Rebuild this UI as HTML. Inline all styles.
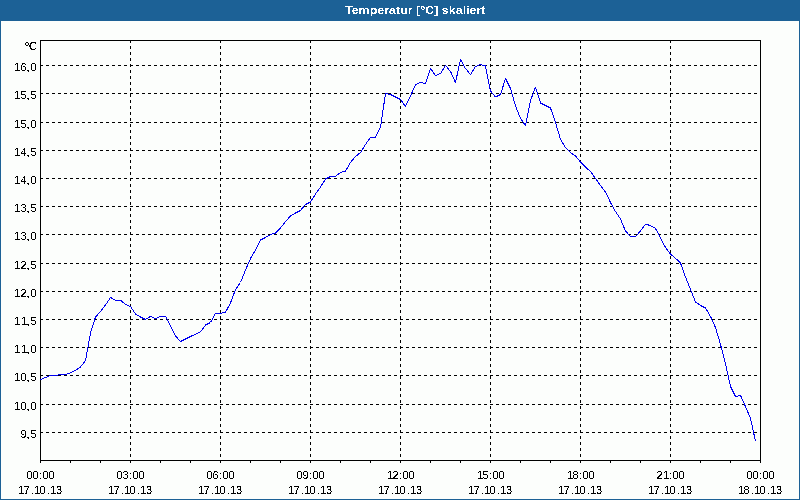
<!DOCTYPE html>
<html><head><meta charset="utf-8"><title>Temperatur [°C] skaliert</title>
<style>
html,body{margin:0;padding:0;background:#fcfefc;overflow:hidden}
#w{position:relative;width:800px;height:500px;background:#fcfefc;font-family:"Liberation Sans",sans-serif;overflow:hidden}
#t{position:absolute;left:0;top:0;width:800px;height:20px;background:#1c6196;color:#fff;font-weight:bold;font-size:11px;line-height:20px;text-align:center}
.b{position:absolute;background:#1c6196}
svg{position:absolute;left:0;top:0}
text{font-family:"Liberation Sans",sans-serif;font-size:11px;fill:#000}
</style></head><body>
<div id="w">
<div id="t"></div>
<div class="b" style="left:0;top:20px;width:800px;height:1px"></div>
<div class="b" style="left:0;top:20px;width:1px;height:480px"></div>
<div class="b" style="left:799px;top:20px;width:1px;height:480px"></div>
<div class="b" style="left:0;top:499px;width:800px;height:1px"></div>
<svg width="800" height="500" viewBox="0 0 800 500">
<defs><filter id="th" x="0" y="0" width="100%" height="100%" filterUnits="userSpaceOnUse" color-interpolation-filters="sRGB"><feComponentTransfer><feFuncA type="discrete" tableValues="0 0 0 0 0 0 0 0 0 1 1 1 1 1 1 1 1 1 1 1"/></feComponentTransfer></filter><filter id="th2" x="0" y="0" width="100%" height="100%" filterUnits="userSpaceOnUse" color-interpolation-filters="sRGB"><feComponentTransfer><feFuncA type="discrete" tableValues="0 0 0 0 0 0 0 0 0 0 1 1 1 1 1 1 1 1 1 1"/></feComponentTransfer></filter><filter id="th3" x="0" y="0" width="100%" height="100%" filterUnits="userSpaceOnUse" color-interpolation-filters="sRGB"><feComponentTransfer><feFuncA type="discrete" tableValues="0 0 0 0 0 0 1 1 1 1 1 1 1 1 1 1 1 1 1 1"/></feComponentTransfer></filter></defs>
<g shape-rendering="crispEdges" stroke="#000" stroke-width="1" fill="none">
<line x1="40" y1="65.5" x2="760" y2="65.5" stroke-dasharray="3 3"/>
<line x1="40" y1="93.5" x2="760" y2="93.5" stroke-dasharray="3 3"/>
<line x1="40" y1="122.5" x2="760" y2="122.5" stroke-dasharray="3 3"/>
<line x1="40" y1="150.5" x2="760" y2="150.5" stroke-dasharray="3 3"/>
<line x1="40" y1="178.5" x2="760" y2="178.5" stroke-dasharray="3 3"/>
<line x1="40" y1="206.5" x2="760" y2="206.5" stroke-dasharray="3 3"/>
<line x1="40" y1="234.5" x2="760" y2="234.5" stroke-dasharray="3 3"/>
<line x1="40" y1="263.5" x2="760" y2="263.5" stroke-dasharray="3 3"/>
<line x1="40" y1="291.5" x2="760" y2="291.5" stroke-dasharray="3 3"/>
<line x1="40" y1="319.5" x2="760" y2="319.5" stroke-dasharray="3 3"/>
<line x1="40" y1="347.5" x2="760" y2="347.5" stroke-dasharray="3 3"/>
<line x1="40" y1="375.5" x2="760" y2="375.5" stroke-dasharray="3 3"/>
<line x1="40" y1="404.5" x2="760" y2="404.5" stroke-dasharray="3 3"/>
<line x1="40" y1="432.5" x2="760" y2="432.5" stroke-dasharray="3 3"/>
<line x1="130.5" y1="40" x2="130.5" y2="460" stroke-dasharray="3 3"/>
<line x1="220.5" y1="40" x2="220.5" y2="460" stroke-dasharray="3 3"/>
<line x1="310.5" y1="40" x2="310.5" y2="460" stroke-dasharray="3 3"/>
<line x1="400.5" y1="40" x2="400.5" y2="460" stroke-dasharray="3 3"/>
<line x1="490.5" y1="40" x2="490.5" y2="460" stroke-dasharray="3 3"/>
<line x1="580.5" y1="40" x2="580.5" y2="460" stroke-dasharray="3 3"/>
<line x1="670.5" y1="40" x2="670.5" y2="460" stroke-dasharray="3 3"/>
<rect x="40.5" y="40.5" width="720" height="420"/>
<line x1="40.5" y1="461" x2="40.5" y2="463"/>
<line x1="70.5" y1="461" x2="70.5" y2="463"/>
<line x1="100.5" y1="461" x2="100.5" y2="463"/>
<line x1="130.5" y1="461" x2="130.5" y2="463"/>
<line x1="160.5" y1="461" x2="160.5" y2="463"/>
<line x1="190.5" y1="461" x2="190.5" y2="463"/>
<line x1="220.5" y1="461" x2="220.5" y2="463"/>
<line x1="250.5" y1="461" x2="250.5" y2="463"/>
<line x1="280.5" y1="461" x2="280.5" y2="463"/>
<line x1="310.5" y1="461" x2="310.5" y2="463"/>
<line x1="340.5" y1="461" x2="340.5" y2="463"/>
<line x1="370.5" y1="461" x2="370.5" y2="463"/>
<line x1="400.5" y1="461" x2="400.5" y2="463"/>
<line x1="430.5" y1="461" x2="430.5" y2="463"/>
<line x1="460.5" y1="461" x2="460.5" y2="463"/>
<line x1="490.5" y1="461" x2="490.5" y2="463"/>
<line x1="520.5" y1="461" x2="520.5" y2="463"/>
<line x1="550.5" y1="461" x2="550.5" y2="463"/>
<line x1="580.5" y1="461" x2="580.5" y2="463"/>
<line x1="610.5" y1="461" x2="610.5" y2="463"/>
<line x1="640.5" y1="461" x2="640.5" y2="463"/>
<line x1="670.5" y1="461" x2="670.5" y2="463"/>
<line x1="700.5" y1="461" x2="700.5" y2="463"/>
<line x1="730.5" y1="461" x2="730.5" y2="463"/>
<line x1="760.5" y1="461" x2="760.5" y2="463"/>
</g>
<polyline shape-rendering="crispEdges" stroke-linejoin="bevel" fill="none" stroke="#0000f0" stroke-width="1" points="40.5,379.5 45.5,377.5 50.5,375.5 55.5,375.5 60.5,374.6 65.5,374.4 70.5,372.8 75.5,370.3 80.5,367 85.5,360.5 90.5,333 95.5,317 100.5,311.5 105.5,305 110.5,297.5 115.5,300.3 120.5,300.3 125.5,304.5 130.5,306.5 135.5,314 140.5,317 145.5,319.5 150.5,316.3 155.5,318.7 160.5,316.3 165.5,316.3 170.5,326 175.5,336 180.5,341.5 185.5,339 190.5,336.5 195.5,334.2 200.5,331.8 205.5,325 210.5,322.5 215.5,313.5 220.5,313.3 225.5,312.2 230.5,303 235.5,289.5 240.5,282.5 245.5,270 250.5,258.5 255.5,250 260.5,240 265.5,237.5 270.5,234.5 275.5,233.2 280.5,228 285.5,221.5 290.5,216 295.5,213 300.5,210.5 305.5,204.5 310.5,202 315.5,194 320.5,187 325.5,179 330.5,176.5 335.5,176.2 340.5,172.5 345.5,171 350.5,162.5 355.5,156.5 360.5,152.5 365.5,144.5 370.5,137.2 375.5,137.2 380.5,127 385.5,93.5 390.5,94.5 395.5,97 400.5,99.5 405.5,106.5 410.5,96 415.5,84.5 420.5,82.5 425.5,83.5 430.5,68.5 435.5,75.5 440.5,73.5 445.5,65.5 450.5,71.5 455.5,82.5 460.5,59.5 465.5,68.5 470.5,74.5 475.5,66.5 480.5,64.5 485.5,66 490.5,91 495.5,97 500.5,94.5 505.5,78.5 510.5,88.5 515.5,106 520.5,118.5 525.5,125.5 530.5,100.5 535.5,87 540.5,103 545.5,105.5 550.5,108 555.5,122.5 560.5,139.5 565.5,147.5 570.5,152.5 575.5,156 580.5,162 585.5,167.2 590.5,171.5 595.5,178.5 600.5,185.5 605.5,192 610.5,202.5 615.5,211.5 620.5,219 625.5,231 630.5,236.5 635.5,236.5 640.5,231 645.5,224.3 650.5,225.5 655.5,228.5 660.5,238 665.5,247.5 670.5,254 675.5,258.3 680.5,263 685.5,277 690.5,289.5 695.5,302 700.5,305.5 705.5,308 710.5,316.5 715.5,327.5 720.5,344.5 725.5,364 730.5,386.5 735.5,396.5 740.5,395.5 745.5,406.5 750.5,418.5 755.5,441.3"/>
<g filter="url(#th2)"><text transform="translate(415.25 14) scale(1.135 1)" text-anchor="middle" style="font-weight:bold;fill:#fff">Temperatur [°C] skaliert</text></g>
<g filter="url(#th3)"><text x="24.8 28.96" y="50">°C</text></g>
<g filter="url(#th)">
<text x="14.25 20.44 26.5 30.44" y="71">16,0</text>
<text x="14.25 20.44 26.5 30.44" y="99">15,5</text>
<text x="14.25 20.44 26.5 30.44" y="128">15,0</text>
<text x="14.25 20.44 26.5 30.44" y="156">14,5</text>
<text x="14.25 20.44 26.5 30.44" y="184">14,0</text>
<text x="14.25 20.44 26.5 30.44" y="212">13,5</text>
<text x="14.25 20.44 26.5 30.44" y="240">13,0</text>
<text x="14.25 20.44 26.5 30.44" y="269">12,5</text>
<text x="14.25 20.44 26.5 30.44" y="297">12,0</text>
<text x="14.25 21.25 26.5 30.44" y="325">11,5</text>
<text x="14.25 21.25 26.5 30.44" y="353">11,0</text>
<text x="14.25 20.44 26.5 30.44" y="381">10,5</text>
<text x="14.25 20.44 26.5 30.44" y="410">10,0</text>
<text x="20.44 26.5 30.44" y="438">9,5</text>
<text x="26.44 32.44 39 42.44 48.44" y="479">00:00</text>
<text x="18.25 23.44 31 34.25 39.44 47 50.25 55.94" y="494">17.10.13</text>
<text x="116.44 122.44 129 132.44 138.44" y="479">03:00</text>
<text x="108.25 113.44 121 124.25 129.44 137 140.25 145.94" y="494">17.10.13</text>
<text x="206.44 212.44 219 222.44 228.44" y="479">06:00</text>
<text x="198.25 203.44 211 214.25 219.44 227 230.25 235.94" y="494">17.10.13</text>
<text x="296.44 302.44 309 312.44 318.44" y="479">09:00</text>
<text x="288.25 293.44 301 304.25 309.44 317 320.25 325.94" y="494">17.10.13</text>
<text x="387.25 392.44 399 402.44 408.44" y="479">12:00</text>
<text x="378.25 383.44 391 394.25 399.44 407 410.25 415.94" y="494">17.10.13</text>
<text x="477.25 482.44 489 492.44 498.44" y="479">15:00</text>
<text x="468.25 473.44 481 484.25 489.44 497 500.25 505.94" y="494">17.10.13</text>
<text x="567.25 572.44 579 582.44 588.44" y="479">18:00</text>
<text x="558.25 563.44 571 574.25 579.44 587 590.25 595.94" y="494">17.10.13</text>
<text x="656.44 663.25 669 672.44 678.44" y="479">21:00</text>
<text x="648.25 653.44 661 664.25 669.44 677 680.25 685.94" y="494">17.10.13</text>
<text x="746.44 752.44 759 762.44 768.44" y="479">00:00</text>
<text x="738.25 743.44 751 754.25 759.44 767 770.25 775.94" y="494">18.10.13</text>
</g>
</svg>
</div>
</body></html>
